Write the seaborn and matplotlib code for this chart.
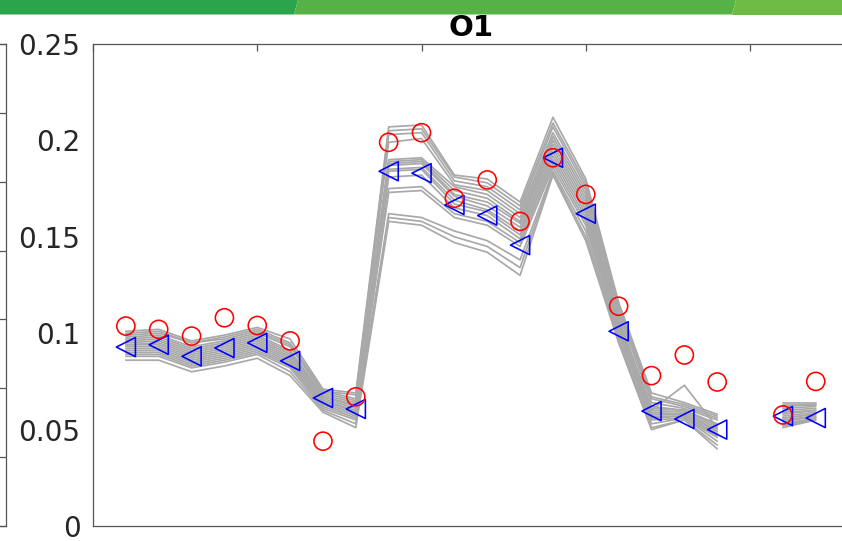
import numpy as np
import pandas as pd
import matplotlib
matplotlib.use("Agg")
import matplotlib.pyplot as plt
from matplotlib.patches import Polygon
import seaborn as sns

# ---- data -------------------------------------------------------------
title = "O1"
steps = list(range(1, 23))
nan = np.nan

# observed values (red circles)
observed = [0.1037, 0.102, 0.0985, 0.108, 0.104, 0.096, 0.044, 0.067,
            0.199, 0.204, 0.170, 0.1795, 0.158, 0.191, 0.172, 0.114,
            0.078, 0.0887, 0.0747, nan, 0.0576, 0.075]

# ensemble mean (blue triangles)
ens_mean = [0.0928, 0.094, 0.088, 0.0923, 0.095, 0.0856, 0.0664, 0.0607,
            0.184, 0.183, 0.1665, 0.161, 0.1457, 0.191, 0.162, 0.101,
            0.0596, 0.0555, 0.050, nan, 0.057, 0.056]

# individual ensemble members (grey lines)
member_01 = [.101, .102, .096, .099, .103, .097, .071, .069, .207, .208, .182, .180, .168, .212, .180, .116, .069, .064, .058, nan, .064, .064]
member_02 = [.100, .101, .095, .098, .102, .095, .070, .068, .205, .206, .181, .178, .166, .209, .178, .114, .067, .063, .057, nan, .063, .063]
member_03 = [.099, .100, .095, .097, .101, .094, .070, .066, .203, .204, .179, .176, .164, .207, .176, .112, .066, .062, .056, nan, .062, .063]
member_04 = [.098, .099, .093, .096, .100, .093, .069, .065, .199, .201, .177, .174, .162, .204, .174, .110, .064, .061, .055, nan, .061, .062]
member_05 = [.097, .098, .092, .095, .099, .091, .068, .064, .190, .191, .176, .172, .160, .202, .172, .108, .060, .073, .051, nan, .060, .061]
member_06 = [.096, .097, .091, .094, .098, .090, .067, .063, .189, .190, .174, .170, .158, .200, .170, .106, .062, .060, .053, nan, .059, .060]
member_07 = [.095, .096, .090, .093, .097, .089, .067, .062, .188, .189, .172, .168, .157, .198, .168, .105, .061, .060, .052, nan, .058, .060]
member_08 = [.094, .095, .089, .092, .096, .088, .066, .061, .187, .188, .171, .166, .155, .196, .166, .104, .060, .059, .051, nan, .057, .059]
member_09 = [.094, .094, .088, .091, .095, .087, .065, .060, .185, .186, .169, .164, .153, .194, .164, .103, .059, .058, .050, nan, .056, .058]
member_10 = [.093, .093, .087, .090, .094, .086, .065, .059, .184, .185, .167, .163, .151, .192, .162, .102, .058, .058, .049, nan, .056, .058]
member_11 = [.092, .092, .086, .089, .093, .085, .064, .058, .181, .182, .165, .161, .149, .190, .160, .101, .057, .057, .048, nan, .055, .057]
member_12 = [.091, .091, .085, .088, .092, .084, .063, .057, .175, .176, .162, .158, .147, .188, .158, .100, .056, .057, .047, nan, .054, .057]
member_13 = [.090, .090, .084, .087, .091, .083, .062, .056, .173, .174, .160, .156, .145, .186, .156, .099, .055, .056, .046, nan, .053, .056]
member_14 = [.089, .089, .083, .086, .090, .082, .061, .055, .162, .160, .153, .148, .138, .184, .153, .097, .053, .056, .044, nan, .052, .056]
member_15 = [.088, .088, .082, .085, .089, .080, .060, .053, .160, .158, .150, .145, .134, .183, .150, .096, .051, .055, .042, nan, .052, .055]
member_16 = [.086, .086, .080, .083, .087, .078, .059, .051, .158, .156, .147, .142, .130, .182, .148, .095, .050, .055, .040, nan, .051, .055]

members = [member_01, member_02, member_03, member_04, member_05, member_06,
           member_07, member_08, member_09, member_10, member_11, member_12,
           member_13, member_14, member_15, member_16]

x_ticks = [0, 5, 10, 15, 20]
y_ticks = [0, 0.05, 0.1, 0.15, 0.2, 0.25]
y_tick_labels = ["0", "0.05", "0.1", "0.15", "0.2", "0.25"]

# ---- long-form table: one trace per contiguous run of each member -------
rows = []
for m, vals in enumerate(members):
    run = 0
    for s, v in zip(steps, vals):
        if np.isnan(v):
            run += 1
            continue
        rows.append({"step": s, "value": v, "trace": f"{m}-{run}"})
ens_df = pd.DataFrame(rows)
pts_df = pd.DataFrame({"step": steps, "obs": observed, "mean": ens_mean})

# ---- figure -----------------------------------------------------------
sns.set_theme(style="white")
plt.rcParams["font.family"] = ["DejaVu Sans"]

W, H = 842, 541
fig = plt.figure(figsize=(W / 100, H / 100), dpi=100, facecolor="white")

spine_col = "#555555"
text_col = "#262626"

# header band
band_h = 14.5 / H
cuts = [(-5, -5), (298, 294), (736, 732), (W + 5, W + 5)]
band_cols = ["#2ca44b", "#56b146", "#6dba45"]
for i, col in enumerate(band_cols):
    (lt, lb), (rt, rb) = cuts[i], cuts[i + 1]
    poly = Polygon([(lb / W, 1 - band_h), (rb / W, 1 - band_h),
                    (rt / W, 1), (lt / W, 1)],
                   closed=True, transform=fig.transFigure,
                   facecolor=col, edgecolor="none")
    fig.add_artist(poly)

ax_bottom = (H - 526) / H
ax_height = (526 - 44) / H

# edge of the neighbouring panel on the left
nb = fig.add_axes([-0.5, ax_bottom, 0.5 + 5.5 / W, ax_height])
nb.set_ylim(0, 0.35)
nb.set_xlim(0, 1)
nb.set_yticks(np.arange(0, 0.351, 0.05))
nb.set_xticks([])
nb.yaxis.tick_right()
nb.tick_params(axis="y", direction="in", length=5, width=0.9,
               color=spine_col, labelright=False)
for sp in nb.spines.values():
    sp.set_color(spine_col)
    sp.set_linewidth(0.9)

# main panel
ax = fig.add_axes([93 / W, ax_bottom, (848.6 - 93) / W, ax_height])

sns.lineplot(data=ens_df, x="step", y="value", units="trace",
             estimator=None, color="#a9a9a9", linewidth=1.25,
             legend=False, ax=ax, zorder=1)

sns.scatterplot(data=pts_df, x="step", y="mean", marker="<", s=190,
                color="blue", facecolor="none", edgecolor="blue",
                linewidth=1.15, legend=False, ax=ax, zorder=3)
sns.scatterplot(data=pts_df, x="step", y="obs", marker="o", s=170,
                color="red", facecolor="none", edgecolor="red",
                linewidth=1.15, legend=False, ax=ax, zorder=4)

ax.set_xlim(0, 23)
ax.set_ylim(0, 0.25)
ax.set_xticks(x_ticks)
ax.set_yticks(y_ticks)
ax.set_yticklabels(y_tick_labels)
ax.set_xlabel("")
ax.set_ylabel("")
ax.tick_params(direction="in", length=5, width=0.9, color=spine_col,
               labelcolor=text_col, labelsize=20, pad=9,
               top=True, right=True, labelbottom=False)
for sp in ax.spines.values():
    sp.set_visible(True)
    sp.set_color(spine_col)
    sp.set_linewidth(0.9)
ax.grid(False)
ax.set_title(title, fontsize=21, fontweight="bold", color="black", pad=6)

fig.savefig("out.png", dpi=100, facecolor="white")
